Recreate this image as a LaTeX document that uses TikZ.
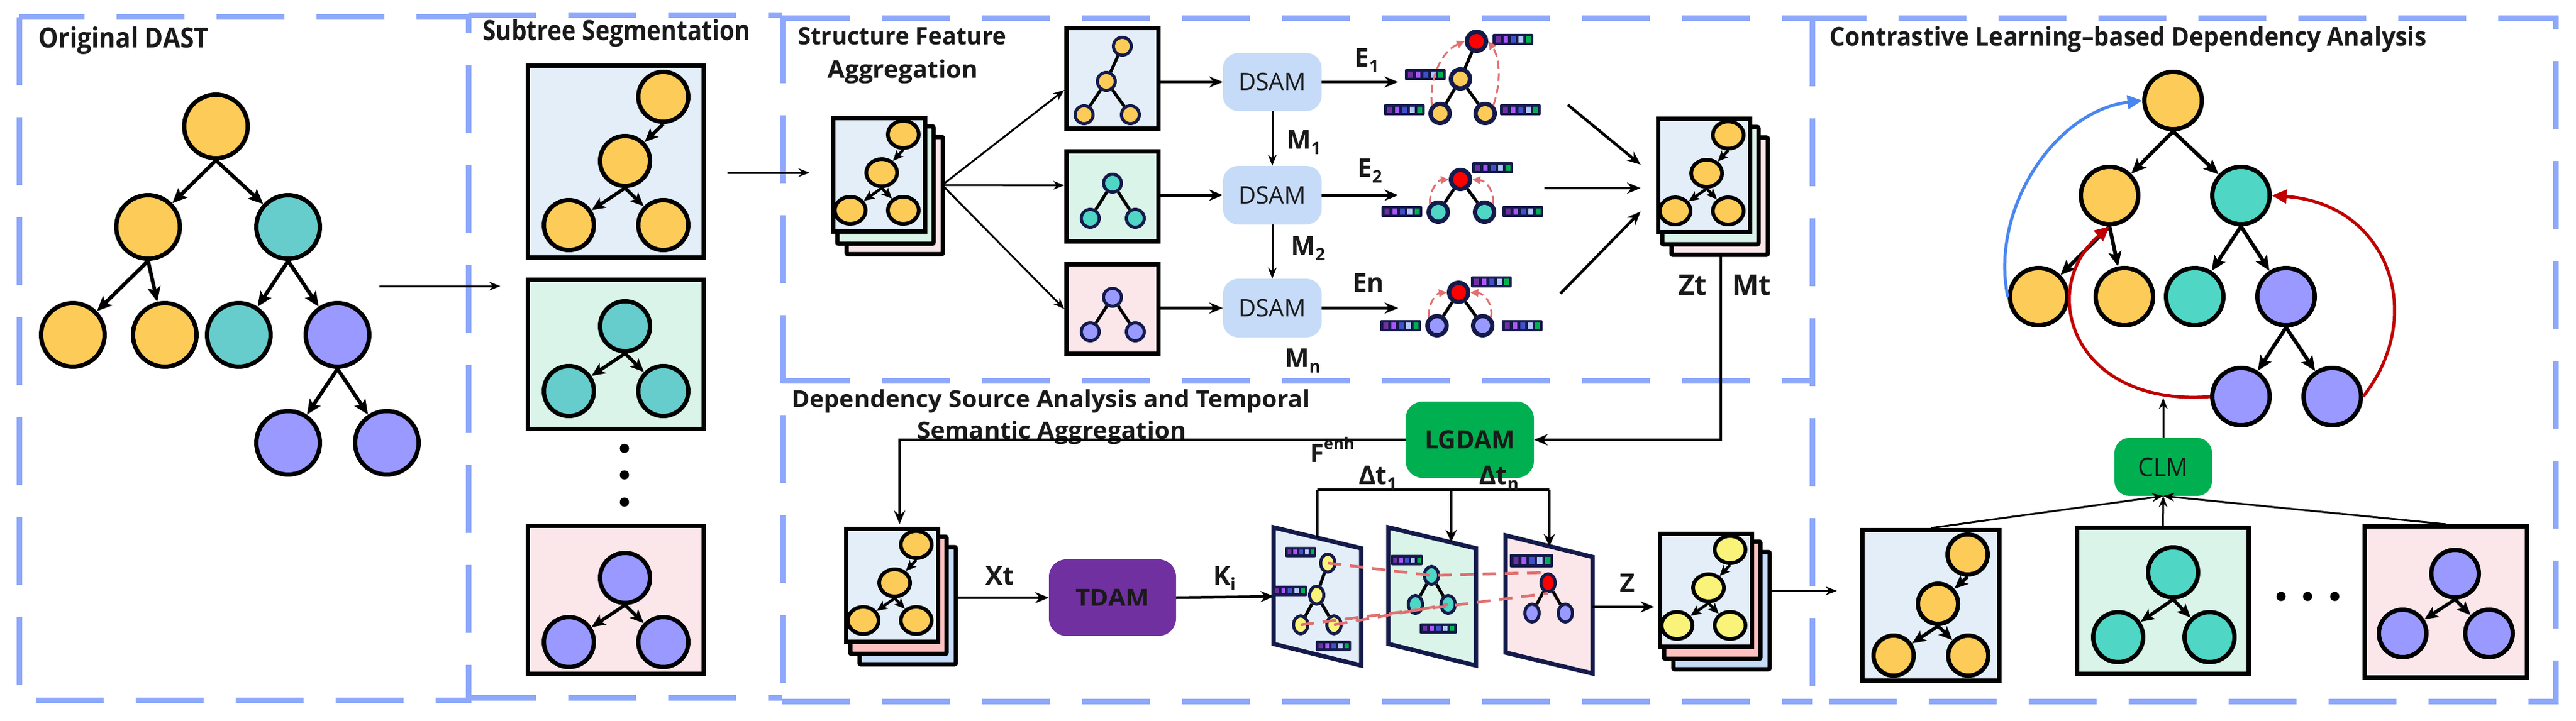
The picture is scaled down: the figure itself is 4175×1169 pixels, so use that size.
\documentclass[tikz,border=0pt]{standalone}
\usepackage{fontspec}
\setmainfont{Open Sans}
\usetikzlibrary{arrows.meta,shapes.geometric}
\definecolor{cY}{RGB}{253,203,88}
\definecolor{cT}{RGB}{102,204,204}
\definecolor{cTb}{RGB}{79,214,196}
\definecolor{cP}{RGB}{153,153,255}
\definecolor{cLY}{RGB}{250,243,122}
\definecolor{fB}{RGB}{227,238,249}
\definecolor{fG}{RGB}{218,244,234}
\definecolor{fP}{RGB}{251,230,234}
\definecolor{fS}{RGB}{255,192,192}
\definecolor{fBb}{RGB}{198,220,248}
\definecolor{cDSAM}{RGB}{198,219,248}
\definecolor{cGreen}{RGB}{0,176,80}
\definecolor{cPurp}{RGB}{112,48,160}
\definecolor{cNavy}{RGB}{20,26,74}
\definecolor{cRedD}{RGB}{224,112,112}
\definecolor{cBlueA}{RGB}{74,134,240}
\definecolor{cRedA}{RGB}{192,0,0}
\definecolor{cDash}{RGB}{142,168,251}
\definecolor{qa}{RGB}{112,48,160}
\definecolor{qb}{RGB}{170,85,255}
\definecolor{qc}{RGB}{64,80,200}
\definecolor{qd}{RGB}{180,196,248}
\definecolor{qe}{RGB}{0,176,80}
\definecolor{cText}{RGB}{26,26,26}
\newcommand{\fitw}[2]{\resizebox{#1}{\height}{#2}}
\newcommand{\tf}[1]{\fontsize{#1}{#1}\selectfont}
\newcommand{\embbar}[4]{%
  \begin{scope}[shift={(#1,#2)}]
    \fill[cNavy,rounded corners=2pt] ({-#3/2},{-#4/2}) rectangle ({#3/2},{#4/2});
    \foreach \kk/\qq in {0/qa,1/qb,2/qc,3/qd,4/qe}
      \fill[\qq] ({-#3/2+#3*(0.08+\kk*0.185)},{-#4*0.26}) rectangle ++({#3*0.12},{#4*0.52});
  \end{scope}}
% stack of three framed cards with a small tree: left, top, name, front, mid, back, node fill
\newcommand{\stackfig}[7]{%
  \draw[stackline, fill=#6] (#1+29,#2+37) rectangle (#1+185,#2+227);
  \draw[stackline, fill=#5] (#1+14,#2+20) rectangle (#1+170,#2+210);
  \node[box, fill=#4, minimum width=149pt, minimum height=183pt, anchor=north west] (#3) at (#1+3.5,#2+3.5) {};
  \node[stN, fill=#7] (#3a) at (#1+121,#2+33) {};
  \node[stN, fill=#7] (#3b) at (#1+86,#2+95) {};
  \node[stN, fill=#7] (#3c) at (#1+35,#2+156) {};
  \node[stN, fill=#7] (#3d) at (#1+121,#2+156) {};
  \draw[stedge] (#3a.south) -- (#3b);
  \draw[stedge] (#3b.south) -- (#3c);
  \draw[stedge] (#3b.south) -- (#3d);
}
\begin{document}
\begin{tikzpicture}[x=1pt,y=-1pt,
  panel/.style={draw=cDash, line width=9pt, dash pattern=on 110pt off 52pt},
  tn/.style={circle, draw=black, line width=7pt, inner sep=0pt},
  bigN/.style={tn, minimum size=103pt},
  subN/.style={tn, minimum size=81pt},
  claN/.style={tn, minimum size=93pt},
  stN/.style={ellipse, draw=black, line width=6pt, inner sep=0pt, minimum width=50pt, minimum height=44pt},
  smN/.style={circle, draw=cNavy, line width=5pt, inner sep=0pt, minimum size=29pt},
  gN/.style={circle, draw=cNavy, line width=7pt, inner sep=0pt, minimum size=31pt},
  slN/.style={ellipse, draw=cNavy, line width=5pt, inner sep=0pt, minimum width=23pt, minimum height=29pt},
  tedge/.style={line width=6pt, -{Stealth[length=24pt,width=21pt,inset=5pt]}},
  sbedge/.style={line width=5.5pt, -{Stealth[length=22pt,width=19pt,inset=5pt]}},
  stedge/.style={line width=4.5pt, -{Stealth[length=17pt,width=15pt,inset=4pt]}},
  pl/.style={line width=5pt, draw=black},
  flow/.style={line width=3pt, -{Stealth[length=18pt,width=14pt]}},
  flowb/.style={line width=4.5pt, -{Stealth[length=22pt,width=18pt]}},
  dasharr/.style={draw=cRedD, line width=3pt, dash pattern=on 13pt off 7pt, -{Triangle[length=13pt,width=12pt]}},
  redd/.style={draw=cRedD, line width=4.5pt, dash pattern=on 22pt off 14pt},
  box/.style={draw=black, line width=7pt, inner sep=0pt},
  stackline/.style={draw=black, line width=7pt, rounded corners=2pt},
  slice/.style={draw=cNavy, line width=7pt, line join=miter},
  module/.style={rounded corners=28pt, inner sep=0pt, text=cText},
  txt/.style={inner sep=0pt, text=cText},
  lbl/.style={inner sep=0pt, text=cText, font=\bfseries}
]
\useasboundingbox (0,0) rectangle (4175,1169);
\fill[white] (0,0) rectangle (4175,1169);

% ---------------- panels ----------------
\draw[panel] (31,28) rectangle (759,1135);
\draw[panel] (759,25) -- (1268,25);
\draw[panel] (759,1131) -- (1268,1131);
\draw[panel] (1268,25) -- (1268,1137);
\draw[panel] (1268,30) -- (2937,30);
\draw[panel] (1268,617) -- (2937,617);
\draw[panel] (1268,1137) -- (2937,1137);
\draw[panel] (2937,30) rectangle (4142,1137);

% ---------------- titles ----------------
\node[txt, anchor=base west] (tOrig) at (62,78) {\tf{45}\bfseries\fitw{276pt}{Original DAST}};
\node[txt, anchor=base west] (tSub) at (782,66) {\tf{45}\bfseries\fitw{434pt}{Subtree Segmentation}};
\node[txt, anchor=base west] (tSFA1) at (1293,73) {\tf{39}\bfseries\fitw{338pt}{Structure Feature}};
\node[txt, anchor=base west] (tSFA2) at (1341,127) {\tf{39}\bfseries\fitw{244pt}{Aggregation}};
\node[txt, anchor=base west] (tDSA1) at (1283,660) {\tf{38}\bfseries\fitw{840pt}{Dependency Source Analysis and Temporal}};
\node[txt, anchor=base west] (tDSA2) at (1486,711) {\tf{38}\bfseries\fitw{436pt}{Semantic Aggregation}};
\node[txt, anchor=base west] (tCLA) at (2965,75) {\tf{42}\bfseries\fitw{968pt}{Contrastive Learning–based Dependency Analysis}};

% ---------------- Original DAST tree ----------------
\node[bigN, fill=cY] (A) at (350,205) {};
\node[bigN, fill=cY] (B) at (240,368) {};
\node[bigN, fill=cT] (C) at (467,368) {};
\node[bigN, fill=cY] (D) at (118,543) {};
\node[bigN, fill=cY] (E) at (267,543) {};
\node[bigN, fill=cT] (F) at (387,543) {};
\node[bigN, fill=cP] (G) at (547,543) {};
\node[bigN, fill=cP] (H) at (467,718) {};
\node[bigN, fill=cP] (I) at (627,718) {};
\foreach \pa/\ch in {A/B,A/C,B/D,B/E,C/F,C/G,G/H,G/I}
  \draw[tedge] (\pa.south) -- (\ch);

\coordinate (a1s) at (615,464);
\coordinate (a1e) at (811,464);
\draw[flow] (a1s) -- (a1e);

% ---------------- Subtree segmentation ----------------
\node[box, fill=fB, minimum width=285pt, minimum height=311pt] (sb1) at (998,262) {};
\node[box, fill=fG, minimum width=285pt, minimum height=242pt] (sb2) at (998,574.5) {};
\node[box, fill=fP, minimum width=285pt, minimum height=240pt] (sb3) at (998,972.5) {};
\node[subN, fill=cY] (s1a) at (1075,157) {};
\node[subN, fill=cY] (s1b) at (1013,261) {};
\node[subN, fill=cY] (s1c) at (922,365) {};
\node[subN, fill=cY] (s1d) at (1075,365) {};
\node[subN, fill=cT] (s2a) at (1013,529) {};
\node[subN, fill=cT] (s2b) at (922,634) {};
\node[subN, fill=cT] (s2c) at (1075,634) {};
\node[subN, fill=cP] (s3a) at (1013,937) {};
\node[subN, fill=cP] (s3b) at (922,1041) {};
\node[subN, fill=cP] (s3c) at (1075,1041) {};
\foreach \pa/\ch in {s1a/s1b,s1b/s1c,s1b/s1d,s2a/s2b,s2a/s2c,s3a/s3b,s3a/s3c}
  \draw[sbedge] (\pa.south) -- (\ch);
\foreach \yy in {727,770,814} \fill (1012,\yy) circle (7.5pt);

\coordinate (a2s) at (1179,280);
\coordinate (a2e) at (1312,280);
\draw[flow] (a2s) -- (a2e);

% ---------------- Structure Feature Aggregation ----------------
\stackfig{1343}{185}{sA}{fB}{fG}{fP}{cY}
\coordinate (brS) at (1527,300);
\node[box, fill=fB, minimum width=149pt, minimum height=163pt] (bA) at (1803,127) {};
\node[box, fill=fG, minimum width=149pt, minimum height=146pt] (bB) at (1803,318.5) {};
\node[box, fill=fP, minimum width=149pt, minimum height=145pt] (bC) at (1803,501) {};
\draw[flow] (brS) -- ([yshift=-19pt]bA.west);
\draw[flow] (brS) -- ([yshift=18pt]bB.west);
\draw[flow] (brS) -- (bC.west);

\node[smN, fill=cY] (a1) at (1819,75) {};
\node[smN, fill=cY] (a2) at (1793,132) {};
\node[smN, fill=cY] (a3) at (1757,186) {};
\node[smN, fill=cY] (a4) at (1832,186) {};
\draw[pl] (a1) -- (a2); \draw[pl] (a2) -- (a3); \draw[pl] (a2) -- (a4);
\node[smN, fill=cTb] (b1) at (1803,297) {};
\node[smN, fill=cTb] (b2) at (1767,354) {};
\node[smN, fill=cTb] (b3) at (1840,354) {};
\draw[pl] (b1) -- (b2); \draw[pl] (b1) -- (b3);
\node[smN, fill=cP] (c1) at (1803,482) {};
\node[smN, fill=cP] (c2) at (1767,538) {};
\node[smN, fill=cP] (c3) at (1840,538) {};
\draw[pl] (c1) -- (c2); \draw[pl] (c1) -- (c3);

\node[module, rounded corners=25pt, fill=cDSAM, minimum width=160pt, minimum height=94pt] (d1) at (2062,133) {\tf{39}\fitw{110pt}{DSAM}};
\node[module, rounded corners=25pt, fill=cDSAM, minimum width=160pt, minimum height=95pt] (d2) at (2062,316.5) {\tf{39}\fitw{110pt}{DSAM}};
\node[module, rounded corners=25pt, fill=cDSAM, minimum width=160pt, minimum height=95pt] (d3) at (2062,499.5) {\tf{39}\fitw{110pt}{DSAM}};
\draw[flowb] (bA.east |- d1.west) -- (d1.west);
\draw[flowb] (bB.east |- d2.west) -- (d2.west);
\draw[flowb] (bC.east |- d3.west) -- (d3.west);
\draw[flow] (d1.south) -- (d2.north);
\draw[flow] (d2.south) -- (d3.north);
\node[lbl, anchor=base west] (m1) at (2085,241) {\tf{42}M\raisebox{-9pt}{\tf{28}1}};
\node[lbl, anchor=base west] (m2) at (2092,413) {\tf{42}M\raisebox{-9pt}{\tf{28}2}};
\node[lbl, anchor=base west] (mn) at (2082,595) {\tf{42}M\raisebox{-9pt}{\tf{28}n}};

\coordinate (e1) at (2266,133);
\coordinate (e2) at (2266,316.5);
\coordinate (e3) at (2266,499.5);
\draw[flowb] (d1.east) -- (e1);
\draw[flowb] (d2.east) -- (e2);
\draw[flowb] (d3.east) -- (e3);
\node[lbl, anchor=base west] (E1) at (2195,109) {\tf{42}E\raisebox{-9pt}{\tf{28}1}};
\node[lbl, anchor=base west] (E2) at (2200,287) {\tf{42}E\raisebox{-9pt}{\tf{28}2}};
\node[lbl, anchor=base west] (En) at (2192,473) {\tf{42}En};

% graph 1
\embbar{2452}{64}{66}{18}
\embbar{2310}{121}{66}{18}
\embbar{2276}{178}{66}{18}
\embbar{2464}{178}{66}{18}
\node[gN, fill=red] (g1r) at (2393,67) {};
\node[gN, fill=cY] (g1m) at (2367,128) {};
\node[gN, fill=cY] (g1a) at (2334,184) {};
\node[gN, fill=cY] (g1b) at (2407,184) {};
\draw[pl] (g1r) -- (g1m); \draw[pl] (g1m) -- (g1a); \draw[pl] (g1m) -- (g1b);
\draw[dasharr] (g1a.north west) .. controls (2316,125) and (2338,82) .. (g1r.west);
\draw[dasharr] (g1b.north east) .. controls (2434,130) and (2430,92) .. (g1r.east);
% graph 2
\embbar{2419}{272}{66}{18}
\embbar{2272}{343}{66}{18}
\embbar{2468}{343}{66}{18}
\node[gN, fill=red] (g2r) at (2367,291) {};
\node[gN, fill=cTb] (g2a) at (2331,344) {};
\node[gN, fill=cTb] (g2b) at (2406,344) {};
\draw[pl] (g2r) -- (g2a); \draw[pl] (g2r) -- (g2b);
\draw[dasharr] (g2a.north west) .. controls (2316,310) and (2330,292) .. (g2r.west);
\draw[dasharr] (g2b.north east) .. controls (2422,312) and (2410,293) .. (g2r.east);
% graph 3
\embbar{2417}{457}{66}{18}
\embbar{2270}{528}{66}{18}
\embbar{2467}{528}{66}{18}
\node[gN, fill=red] (g3r) at (2364,474) {};
\node[gN, fill=cP] (g3a) at (2329,528) {};
\node[gN, fill=cP] (g3b) at (2403,528) {};
\draw[pl] (g3r) -- (g3a); \draw[pl] (g3r) -- (g3b);
\draw[dasharr] (g3a.north west) .. controls (2314,494) and (2327,476) .. (g3r.west);
\draw[dasharr] (g3b.north east) .. controls (2420,496) and (2408,476) .. (g3r.east);

% to Zt
\coordinate (z1s) at (2541,170); \coordinate (z1e) at (2659,267);
\coordinate (z2s) at (2503,305); \coordinate (z2e) at (2659,305);
\coordinate (z3s) at (2529,476); \coordinate (z3e) at (2659,343);
\draw[flowb] (z1s) -- (z1e);
\draw[flowb] (z2s) -- (z2e);
\draw[flowb] (z3s) -- (z3e);
\stackfig{2680}{186}{sZ}{fB}{fG}{fP}{cY}
\node[lbl, anchor=base west] (lZt) at (2720,478) {\tf{46}Zt};
\node[lbl, anchor=base west] (lMt) at (2807,478) {\tf{46}Mt};

% ---------------- Dependency Source Analysis ----------------
\node[module, fill=cGreen, minimum width=208pt, minimum height=124pt] (lg) at (2382,713) {\tf{41}\bfseries\fitw{146pt}{LGDAM}};
\coordinate (mtS) at (2789,414);
\draw[line width=4pt, -{Stealth[length=22pt,width=18pt]}] (mtS) |- (lg.east);
\stackfig{1364}{850}{sX}{fB}{fS}{fBb}{cY}
\coordinate (sXT) at (1458,850);
\draw[line width=4pt, -{Stealth[length=22pt,width=18pt]}] (lg.west) -| (sXT);
\node[lbl, anchor=base west] (lF) at (2123,749) {\tf{41}F\raisebox{21pt}{\tf{26}enh}};

\node[module, fill=cPurp, minimum width=206pt, minimum height=124pt] (td) at (1803,969) {\tf{38}\bfseries\fitw{120pt}{TDAM}};
\coordinate (xtS) at (1548,969);
\draw[flowb] (xtS) -- (td.west);
\node[lbl, anchor=base west] (lXt) at (1597,948) {\tf{42}Xt};
\coordinate (s1L) at (2065,967);
\draw[flowb] (td.east) -- (s1L);
\node[lbl, anchor=base west] (lK) at (1966,948) {\tf{42}K\raisebox{-9pt}{\tf{28}i}};

% slices
\draw[slice, fill=fB] (2064,855) -- (2206,889) -- (2206,1079) -- (2064,1044) -- cycle;
\draw[slice, fill=fG] (2250,855) -- (2392,889) -- (2392,1079) -- (2250,1044) -- cycle;
\draw[slice, fill=fP] (2440,868) -- (2581,903) -- (2581,1092) -- (2440,1058) -- cycle;

\node[slN, fill=cLY] (k1) at (2152,913) {};
\node[slN, fill=cLY] (k2) at (2134,965) {};
\node[slN, fill=cLY] (k3) at (2108,1013) {};
\node[slN, fill=cLY] (k4) at (2162,1013) {};
\draw[pl] (k1) -- (k2); \draw[pl] (k2) -- (k3); \draw[pl] (k2) -- (k4);
\node[slN, fill=cTb] (j1) at (2320,933) {};
\node[slN, fill=cTb] (j2) at (2294,980) {};
\node[slN, fill=cTb] (j3) at (2347,980) {};
\draw[pl] (j1) -- (j2); \draw[pl] (j1) -- (j3);
\node[slN, fill=red] (h1) at (2509,945) {};
\node[slN, fill=cP] (h2) at (2483,994) {};
\node[slN, fill=cP] (h3) at (2537,994) {};
\draw[pl] (h1) -- (h2); \draw[pl] (h1) -- (h3);
\embbar{2108}{895}{50}{17}
\embbar{2090}{958}{57}{17}
\embbar{2161}{1047}{57}{17}
\embbar{2280}{908}{52}{17}
\embbar{2331}{1019}{60}{17}
\embbar{2482}{909}{70}{22}
\draw[redd] (k1.center) -- (j1.center) -- (h1.north);
\draw[redd] (k3.center) -- (h1.south);
\draw[redd] (k4.center) -- (j3.center);

% delta t bracket
\coordinate (dtL) at (2135,794);
\coordinate (dtM) at (2352,794);
\coordinate (dtR) at (2511,794);
\coordinate (s1T) at (2135,872);
\coordinate (s2T) at (2352,879);
\coordinate (s3T) at (2511,886);
\draw[line width=4pt] (dtL) -- (dtR);
\draw[line width=4pt] (dtL) -- (s1T);
\draw[line width=4pt, -{Stealth[length=20pt,width=18pt]}] (dtM) -- (s2T);
\draw[line width=4pt, -{Stealth[length=20pt,width=18pt]}] (dtR) -- (s3T);
\node[lbl, anchor=base west] (ldt1) at (2202,785) {\tf{42}Δt\raisebox{-9pt}{\tf{28}1}};
\node[lbl, anchor=base west] (ldtn) at (2397,785) {\tf{42}Δt\raisebox{-9pt}{\tf{28}n}};

\coordinate (s3R) at (2581,984);
\coordinate (oL) at (2681,984);
\draw[flowb] (s3R) -- (oL);
\node[lbl, anchor=base west] (lZ) at (2625,960) {\tf{42}Z};
\stackfig{2683}{858}{sO}{fB}{fS}{fBb}{cLY}
\coordinate (oR) at (2865,958);
\coordinate (cIn) at (2977,958);
\draw[flow] (oR) -- (cIn);

% ---------------- Contrastive learning ----------------
\node[claN, fill=cY] (R) at (3522,163) {};
\node[claN, fill=cY] (L2a) at (3419,317) {};
\node[claN, fill=cTb] (L2b) at (3632,317) {};
\node[claN, fill=cY] (L3a) at (3304,481) {};
\node[claN, fill=cY] (L3b) at (3443,481) {};
\node[claN, fill=cTb] (L3c) at (3557,481) {};
\node[claN, fill=cP] (L3d) at (3705,481) {};
\node[claN, fill=cP] (L4a) at (3632,643) {};
\node[claN, fill=cP] (L4b) at (3780,643) {};
\foreach \pa/\ch in {R/L2a,R/L2b,L2a/L3a,L2a/L3b,L2b/L3c,L2b/L3d,L3d/L4a,L3d/L4b}
  \draw[tedge] (\pa.south) -- (\ch);
\draw[cBlueA, line width=5pt, -{Triangle[length=24pt,width=22pt]}] (L3a.west) .. controls (3225,340) and (3330,180) .. (R.west);
\draw[cRedA, line width=5pt, -{Triangle[length=24pt,width=22pt]}] (L4a.west) .. controls (3360,660) and (3300,470) .. (L2a.south);
\draw[cRedA, line width=5pt, -{Triangle[length=24pt,width=22pt]}] (L4b.east) .. controls (3935,510) and (3870,330) .. (L2b.east);

\node[module, rounded corners=24pt, fill=cGreen, minimum width=158pt, minimum height=94pt] (clm) at (3506,757) {\tf{42}\fitw{81pt}{CLM}};
\coordinate (clmT) at (3506,645);
\draw[flow] (clm.north) -- (clmT);

\node[box, fill=fB, minimum width=222pt, minimum height=244pt] (cb1) at (3129.5,981.5) {};
\node[box, fill=fG, minimum width=278pt, minimum height=237pt] (cb2) at (3505.5,974) {};
\node[box, fill=fP, minimum width=263pt, minimum height=245pt] (cb3) at (3964,976) {};
\draw[flow] (cb1.north) -- (clm.south);
\draw[flow] (cb2.north) -- (clm.south);
\draw[flow] (cb3.north) -- (clm.south);

\node[tn, minimum size=65pt, fill=cY] (u1) at (3189,899) {};
\node[tn, minimum size=65pt, fill=cY] (u2) at (3141,979) {};
\node[tn, minimum size=65pt, fill=cY] (u3) at (3069,1063) {};
\node[tn, minimum size=65pt, fill=cY] (u4) at (3190,1063) {};
\node[subN, fill=cTb] (v1) at (3522,928) {};
\node[subN, fill=cTb] (v2) at (3433,1033) {};
\node[subN, fill=cTb] (v3) at (3581,1033) {};
\node[tn, minimum size=77pt, fill=cP] (w1) at (3979,930) {};
\node[tn, minimum size=77pt, fill=cP] (w2) at (3894,1027) {};
\node[tn, minimum size=77pt, fill=cP] (w3) at (4034,1027) {};
\foreach \pa/\ch in {u1/u2,u2/u3,u2/u4,v1/v2,v1/v3,w1/w2,w1/w3}
  \draw[sbedge] (\pa.south) -- (\ch);
\foreach \xx in {3697,3740,3784} \fill (\xx,967) circle (7.5pt);
\end{tikzpicture}
\end{document}
